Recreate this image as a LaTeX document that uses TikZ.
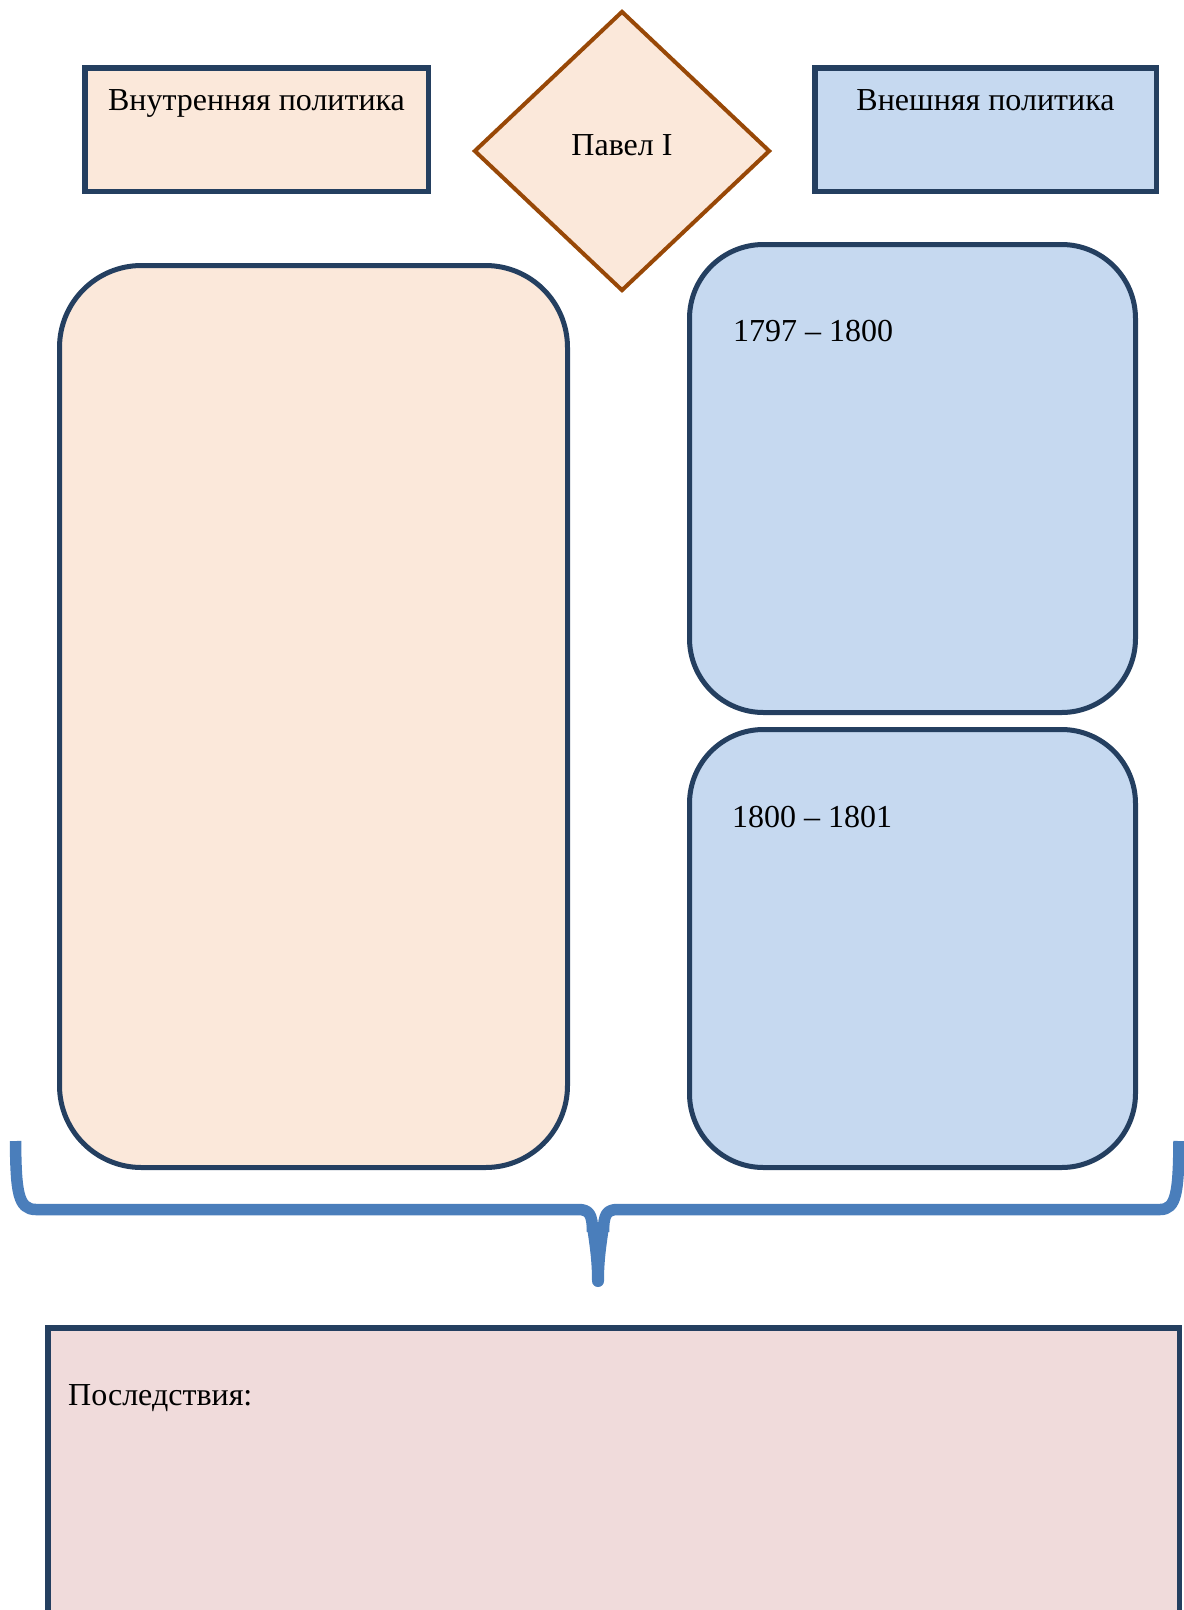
\documentclass[tikz,border=0pt]{standalone}
\usepackage{fontspec}
\setmainfont{Liberation Serif}
\usetikzlibrary{shapes.geometric}
\definecolor{peach}{HTML}{FBE8DA}
\definecolor{paleblue}{HTML}{C6D9F0}
\definecolor{navy}{HTML}{243F60}
\definecolor{rust}{HTML}{984807}
\definecolor{bracec}{HTML}{4A7EBB}
\definecolor{rosy}{HTML}{F0DBDB}
\begin{document}
\begin{tikzpicture}[x=1pt,y=-1pt,
  box/.style={draw=navy,line width=5.5pt,inner sep=0pt,outer sep=0pt},
  rbox/.style={draw=navy,line width=5pt,inner sep=0pt,outer sep=0pt,rounded corners=#1},
  lbl/.style={font=\fontsize{32}{36}\selectfont,inner sep=0pt,text=black},
  bracestyle/.style={draw=bracec,line width=11.5pt,line cap=butt,line join=round}
]
\useasboundingbox (0,0) rectangle (1184,1610);
\clip (0,0) rectangle (1184,1610);
% top boxes
\node[box,fill=peach,minimum width=343.5pt,minimum height=123.5pt] (inner) at (256.5,129.5) {};
\node[box,fill=paleblue,minimum width=341.5pt,minimum height=123.5pt] (outer) at (985.5,129.5) {};
\node[draw=rust,line width=4pt,fill=peach,diamond,minimum width=296pt,minimum height=280pt,inner sep=0pt] (pavel) at (622,151) {};
% rounded panels
\node[rbox=82pt,fill=peach,minimum width=508pt,minimum height=902pt] (innerpanel) at (313.5,716.5) {};
\node[rbox=74pt,fill=paleblue,minimum width=446pt,minimum height=468pt] (outerA) at (912.5,478.5) {};
\node[rbox=74pt,fill=paleblue,minimum width=446pt,minimum height=438pt] (outerB) at (912.5,948.5) {};
% bottom box
\node[box,fill=rosy,minimum width=1131.5pt,minimum height=372pt] (result) at (613.5,1514) {};
% texts
\node[lbl,anchor=base] (t1) at (256.5,110.5) {Внутренняя политика};
\node[lbl,anchor=base] (t2) at (985.5,110.5) {Внешняя политика};
\node[lbl,anchor=base] (t3) at (622,155) {Павел I};
\node[lbl,anchor=base west] (t4) at (733,341) {1797 – 1800};
\node[lbl,anchor=base west] (t5) at (732,827) {1800 – 1801};
\node[lbl,anchor=base west] (t6) at (68,1405) {Последствия:};
% brace
\coordinate (bl) at (15.5,1141);
\coordinate (br) at (1179,1141);
\draw[bracestyle] (bl) .. controls (16,1192) and (18,1209.5) .. (36,1209.5) -- (578,1209.5) .. controls (589,1209.5) and (592.5,1214) .. (592.5,1232);
\draw[bracestyle] (br) .. controls (1178.5,1192) and (1176.5,1209.5) .. (1160,1209.5) -- (618,1209.5) .. controls (607,1209.5) and (603.5,1214) .. (603.5,1232);
\fill[bracec] (586.8,1226) .. controls (589.5,1245) and (592,1260) .. (592,1281) arc (180:0:6) .. controls (604,1260) and (606.5,1245) .. (609.2,1226) -- cycle;
\end{tikzpicture}
\end{document}
